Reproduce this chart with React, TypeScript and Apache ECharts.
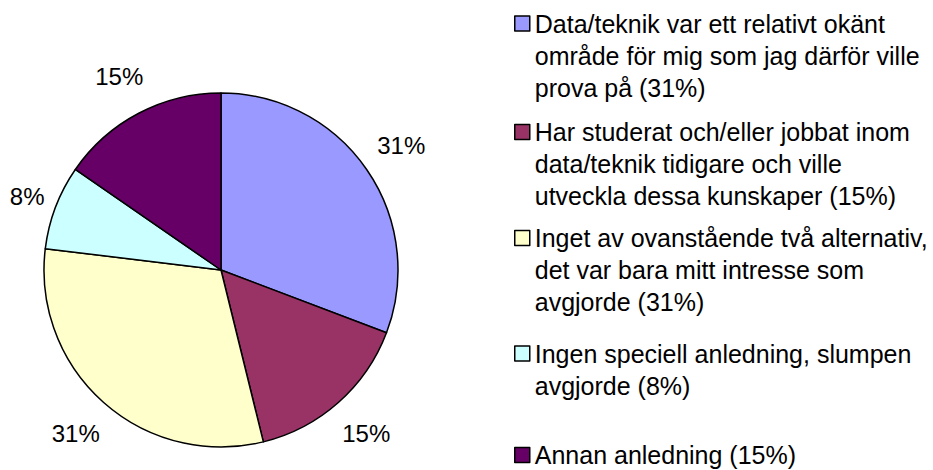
import React, { useEffect, useRef } from 'react';
import * as echarts from 'echarts';

// ---- data ----
const categories: string[] = [
  'Data/teknik var ett relativt okänt\nområde för mig som jag därför ville\nprova på',
  'Har studerat och/eller jobbat inom\ndata/teknik tidigare och ville\nutveckla dessa kunskaper',
  'Inget av ovanstående två alternativ,\ndet var bara mitt intresse som\navgjorde',
  'Ingen speciell anledning, slumpen\navgjorde',
  'Annan anledning',
];
const values: number[] = [4, 2, 4, 1, 2];

// ---- styles / layout ----
const colors = ['#9999FF', '#993366', '#FFFFCC', '#CCFFFF', '#660066'];
const legendFirstLineCenters = [23.5, 132, 238, 353.5, 455];
const FONT = 'Liberation Sans, Arial, sans-serif';
const LEGEND_FONT = 25;
const LEGEND_LH = 32;

const total = values.reduce((a, b) => a + b, 0);
const pctOf = (name: string) => {
  const i = categories.indexOf(name);
  return Math.round((values[i] / total) * 100);
};

export default function App() {
  const ref = useRef<HTMLDivElement>(null);
  useEffect(() => {
    if (!ref.current) return;
    const chart = echarts.init(ref.current, undefined, { renderer: 'svg' });
    const legends = categories.map((name, i) => {
      const lines = name.split('\n').length;
      return {
        left: 514,
        // text block of (2N-1) lines is centred on the icon; first real line sits on the icon
        top: legendFirstLineCenters[i] - ((2 * lines - 1) * LEGEND_LH) / 2,
        orient: 'vertical',
        padding: 0,
        itemWidth: 15,
        itemHeight: 15,
        itemGap: 0,
        selectedMode: false,
        icon: 'rect',
        data: [name],
        itemStyle: { borderColor: '#000', borderWidth: 1.5 },
        formatter: (n: string) => '\n'.repeat(lines - 1) + `${n} (${pctOf(n)}%)`,
        textStyle: {
          fontFamily: FONT,
          fontSize: LEGEND_FONT,
          lineHeight: LEGEND_LH,
          color: '#000',
          padding: [0, 0, 0, 0],
        },
      };
    });
    chart.setOption({
      animation: false,
      backgroundColor: '#fff',
      color: colors,
      legend: legends,
      series: [
        {
          type: 'pie',
          center: [221, 270],
          radius: 177,
          startAngle: 90,
          clockwise: true,
          avoidLabelOverlap: false,
          silent: true,
          itemStyle: { borderColor: '#000', borderWidth: 1.5 },
          label: {
            show: true,
            position: 'outside',
            fontFamily: FONT,
            fontSize: 24,
            color: '#000',
            formatter: (p: any) => `${Math.round(p.percent)}%`,
          },
          labelLine: {
            show: true,
            length: 10,
            length2: 0,
            lineStyle: { opacity: 0, width: 0 },
          },
          labelLayout: (p: any) => {
            const pts = p.labelLinePoints;
            if (!pts || pts.length < 2) return {};
            const [x0, y0] = pts[0];
            const [x1, y1] = pts[1];
            const len = Math.hypot(x1 - x0, y1 - y0) || 1;
            const ux = (x1 - x0) / len;
            const uy = (y1 - y0) / len;
            const d = 1.75 * (p.labelRect.width / 2);
            return { x: x0 + ux * d, y: y0 + uy * d, align: 'center', verticalAlign: 'middle' };
          },
          data: categories.map((name, i) => ({ name, value: values[i] })),
        },
      ],
    });
    return () => chart.dispose();
  }, []);
  return (
    <div
      ref={ref}
      style={{ position: 'fixed', left: 0, top: 0, width: 933, height: 470, background: '#fff' }}
    />
  );
}
